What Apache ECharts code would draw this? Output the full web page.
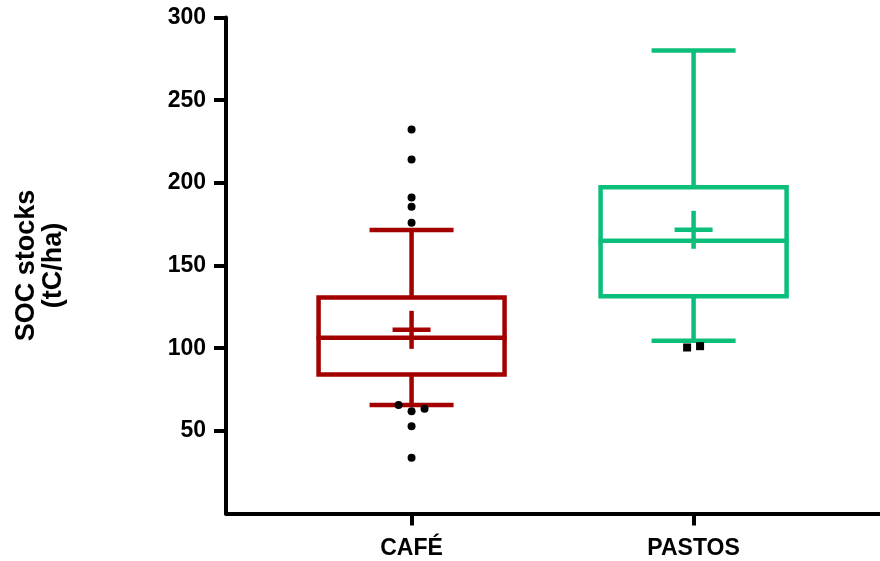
<!DOCTYPE html>
<html>
<head>
<meta charset="utf-8">
<script src="https://cdn.jsdelivr.net/npm/echarts@6/dist/echarts.min.js"></script>
<style>
    html, body { margin: 0; padding: 0; background: #fff; }
    #chart { width: 880px; height: 561px; }
</style>
</head>
<body>
<div id="chart"></div>
<script>
    'use strict';

    var categories = ['CAFÉ', 'PASTOS'];
    var colors = ['#a30000', '#0bbf7b'];
    // [x, min, q1, median, q3, max]
    var boxStats = [
        [1, 65.7, 84.1, 106.3, 130.6, 171.4],
        [2, 104.5, 131.4, 164.9, 197.4, 280]
    ];
    var means = [111.1, 171.6];
    var cafeOutliers = [
        [1, 232.3], [1, 214.1], [1, 191.1], [1, 185.5], [1, 175.8],
        [0.954, 65.7], [1, 61.9], [1.046, 63.3], [1, 52.8], [1, 33.7]
    ];
    var pastosOutliers = [[1.977, 100.4], [2.023, 101.2]];
    var yTicks = [50, 100, 150, 200, 250, 300];

    var font = 'Liberation Sans, Arial, sans-serif';
    var boxHalf = 93;
    var capHalf = 42;
    var crossHalf = 19;

    function renderBox(params, api) {
        var x = api.value(0);
        var color = colors[params.dataIndex];
        var pMin = api.coord([x, api.value(1)]);
        var pQ1 = api.coord([x, api.value(2)]);
        var pMed = api.coord([x, api.value(3)]);
        var pQ3 = api.coord([x, api.value(4)]);
        var pMax = api.coord([x, api.value(5)]);
        var pMean = api.coord([x, api.value(6)]);
        var cx = pMed[0];
        var st = { stroke: color, lineWidth: 4.5, fill: null };
        function line(x1, y1, x2, y2) {
            return { type: 'line', shape: { x1: x1, y1: y1, x2: x2, y2: y2 }, style: st };
        }
        return {
            type: 'group',
            children: [
                line(cx, pQ3[1], cx, pMax[1]),
                line(cx, pMin[1], cx, pQ1[1]),
                line(cx - capHalf, pMax[1], cx + capHalf, pMax[1]),
                line(cx - capHalf, pMin[1], cx + capHalf, pMin[1]),
                { type: 'rect', shape: { x: cx - boxHalf, y: pQ3[1], width: boxHalf * 2, height: pQ1[1] - pQ3[1] }, style: st },
                line(cx - boxHalf - 2, pMed[1], cx + boxHalf + 2, pMed[1]),
                line(cx - crossHalf, pMean[1], cx + crossHalf, pMean[1]),
                line(cx, pMean[1] - crossHalf, cx, pMean[1] + crossHalf)
            ]
        };
    }

    var boxData = boxStats.map(function (b, i) { return b.concat([means[i]]); });

    var myChart = echarts.init(document.getElementById('chart'));
    myChart.setOption({
        animation: false,
        grid: { left: 226, right: 0, top: 17.5, bottom: 47.5, containLabel: false },
        xAxis: {
            type: 'value',
            min: 0.342,
            max: 2.661,
            splitLine: { show: false },
            axisLine: { lineStyle: { color: '#000', width: 4 } },
            axisTick: { customValues: [1, 2], length: 12, lineStyle: { color: '#000', width: 4 } },
            axisLabel: {
                customValues: [1, 2],
                margin: 24,
                color: '#000',
                fontFamily: font,
                fontWeight: 'bold',
                fontSize: 23,
                formatter: function (v) { return categories[Math.round(v) - 1]; }
            }
        },
        yAxis: {
            type: 'value',
            min: 0,
            max: 300,
            interval: 50,
            splitLine: { show: false },
            axisLine: { show: true, lineStyle: { color: '#000', width: 4 } },
            axisTick: { show: true, customValues: yTicks, length: 12, lineStyle: { color: '#000', width: 4 } },
            axisLabel: {
                customValues: yTicks,
                margin: 20,
                color: '#000',
                fontFamily: font,
                fontWeight: 'bold',
                fontSize: 23
            },
            name: 'SOC stocks\n(tC/ha)',
            nameLocation: 'middle',
            nameRotate: 90,
            nameGap: 159,
            nameTextStyle: {
                color: '#000',
                fontFamily: font,
                fontWeight: 'bold',
                fontSize: 27,
                lineHeight: 27
            }
        },
        series: [
            {
                type: 'custom',
                renderItem: renderBox,
                encode: { x: 0, y: [1, 2, 3, 4, 5] },
                data: boxData,
                z: 2
            },
            {
                type: 'scatter',
                data: cafeOutliers,
                symbol: 'circle',
                symbolSize: 8,
                itemStyle: { color: '#000', opacity: 1 },
                z: 3
            },
            {
                type: 'scatter',
                data: pastosOutliers,
                symbol: 'rect',
                symbolSize: 8,
                itemStyle: { color: '#000', opacity: 1 },
                z: 3
            }
        ]
    });
</script>
</body>
</html>
